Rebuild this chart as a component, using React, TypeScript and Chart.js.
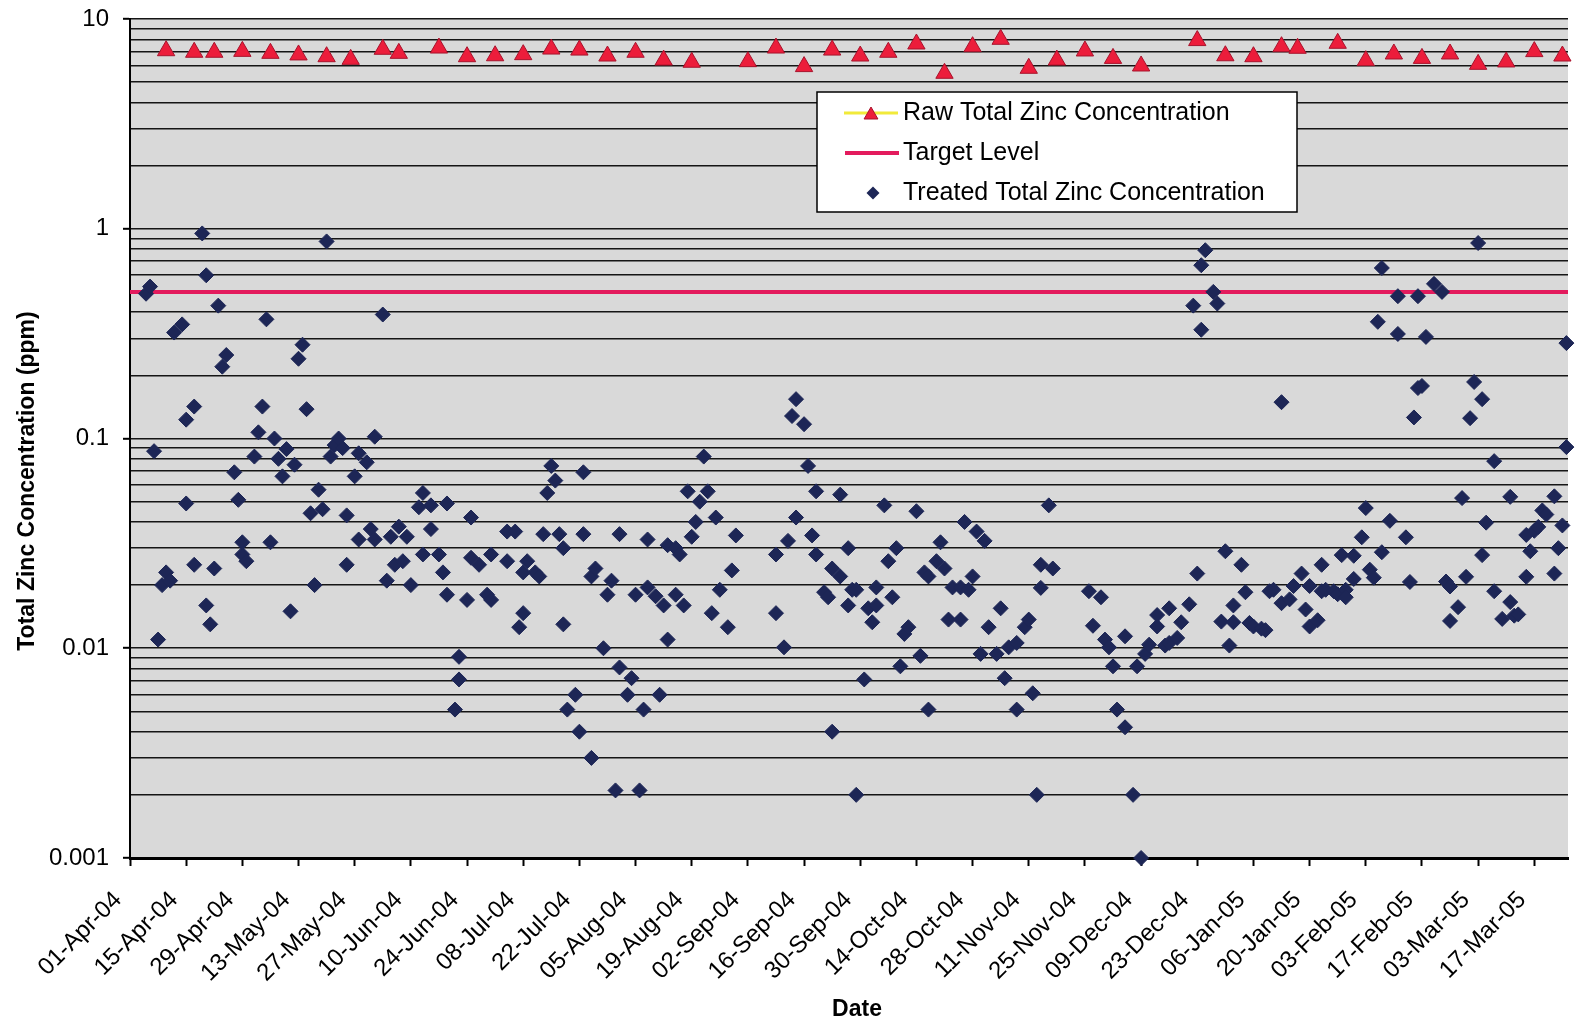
import React, { useEffect, useRef } from 'react';
import { Chart, registerables } from 'chart.js';

Chart.register(...registerables);

// ---- canvas / plot geometry -------------------------------------------------
const CANVAS_W = 1579;
const CANVAS_H = 1027;
const PLOT_LEFT = 130;
const PLOT_TOP = 19;
const PLOT_BOTTOM = 858;
const DAY_MAX = 358.4; // days after 01-Apr-04 shown at the right edge
const TICK_STEP_DAYS = 14;

// ---- axis labels -------------------------------------------------------------
const xTickLabels = [
  '01-Apr-04', '15-Apr-04', '29-Apr-04', '13-May-04', '27-May-04', '10-Jun-04',
  '24-Jun-04', '08-Jul-04', '22-Jul-04', '05-Aug-04', '19-Aug-04', '02-Sep-04',
  '16-Sep-04', '30-Sep-04', '14-Oct-04', '28-Oct-04', '11-Nov-04', '25-Nov-04',
  '09-Dec-04', '23-Dec-04', '06-Jan-05', '20-Jan-05', '03-Feb-05', '17-Feb-05',
  '03-Mar-05', '17-Mar-05',
];
const yDecadeValues = [0.001, 0.01, 0.1, 1, 10];
const yTickLabels = ['0.001', '0.01', '0.1', '1', '10'];
const X_TITLE = 'Date';
const Y_TITLE = 'Total Zinc Concentration (ppm)';

// ---- data (x = days after 01-Apr-04, y = ppm) -------------------------------
const TARGET_LEVEL = 0.5;

const rawDays = [
  9, 16, 21, 28, 35, 42, 49, 55, 63, 67, 77, 84, 91, 98, 105, 112, 119, 126, 133, 140,
  154, 161, 168, 175, 182, 189, 196, 203, 210, 217, 224, 231, 238, 245, 252, 266, 273,
  280, 287, 291, 301, 308, 315, 322, 329, 336, 343, 350, 357,
];
const rawZinc = [
  7.06, 6.94, 6.94, 7.01, 6.86, 6.74, 6.61, 6.42, 7.17, 6.86, 7.27, 6.61, 6.68, 6.76,
  7.19, 7.11, 6.66, 6.94, 6.37, 6.22, 6.26, 7.27, 5.93, 7.11, 6.66, 6.94, 7.6, 5.51,
  7.38, 8.0, 5.82, 6.37, 7.04, 6.49, 5.97, 7.89, 6.68, 6.61, 7.38, 7.25, 7.66, 6.33,
  6.81, 6.49, 6.81, 6.08, 6.24, 6.99, 6.66,
];

const treatedSamples: [number, number][] = [
  [4, 0.49], [5, 0.53], [6, 0.087], [7, 0.011], [8, 0.02], [9, 0.023], [10, 0.021],
  [11, 0.32], [13, 0.35], [14, 0.123], [14, 0.049], [16, 0.025], [16, 0.142], [18, 0.95],
  [19, 0.6], [19, 0.016], [20, 0.013], [21, 0.024], [22, 0.43], [23, 0.22], [24, 0.25],
  [26, 0.069], [27, 0.051], [28, 0.032], [28, 0.028], [29, 0.026], [31, 0.082], [32, 0.107],
  [33, 0.142], [34, 0.37], [35, 0.032], [36, 0.1], [37, 0.08], [38, 0.066], [39, 0.089],
  [40, 0.015], [41, 0.075], [42, 0.24], [43, 0.28], [44, 0.138], [45, 0.044], [46, 0.02],
  [47, 0.057], [48, 0.046], [49, 0.87], [50, 0.082], [51, 0.093], [52, 0.1], [53, 0.09],
  [54, 0.043], [54, 0.025], [56, 0.066], [57, 0.085], [57, 0.033], [59, 0.077], [60, 0.037],
  [61, 0.033], [61, 0.102], [63, 0.39], [64, 0.021], [65, 0.034], [66, 0.025], [67, 0.038],
  [68, 0.026], [69, 0.034], [70, 0.02], [72, 0.047], [73, 0.055], [73, 0.028], [75, 0.037],
  [75, 0.048], [77, 0.028], [78, 0.023], [79, 0.049], [79, 0.018], [81, 0.0051], [82, 0.0091],
  [82, 0.0071], [84, 0.017], [85, 0.042], [85, 0.027], [87, 0.025], [89, 0.018], [90, 0.028],
  [90, 0.017], [94, 0.036], [94, 0.026], [96, 0.036], [97, 0.0126], [98, 0.0147], [98, 0.023],
  [99, 0.026], [101, 0.023], [102, 0.022], [103, 0.035], [104, 0.055], [105, 0.074],
  [106, 0.063], [107, 0.035], [108, 0.03], [108, 0.013], [109, 0.0051], [111, 0.006],
  [112, 0.004], [113, 0.069], [113, 0.035], [115, 0.003], [115, 0.022], [116, 0.024],
  [118, 0.01], [119, 0.018], [120, 0.021], [121, 0.0021], [122, 0.035], [122, 0.0081],
  [124, 0.006], [125, 0.0072], [126, 0.018], [127, 0.0021], [128, 0.0051], [129, 0.033],
  [129, 0.0195], [131, 0.0177], [132, 0.006], [133, 0.016], [134, 0.011], [134, 0.031],
  [136, 0.03], [136, 0.018], [137, 0.028], [138, 0.016], [139, 0.056], [140, 0.034],
  [141, 0.04], [142, 0.05], [143, 0.082], [144, 0.056], [145, 0.0147], [146, 0.042],
  [147, 0.019], [149, 0.0126], [150, 0.0235], [151, 0.0345], [161, 0.028], [161, 0.0147],
  [163, 0.0101], [164, 0.0325], [165, 0.128], [166, 0.042], [166, 0.154], [168, 0.117],
  [169, 0.074], [170, 0.0345], [171, 0.056], [171, 0.028], [173, 0.0185], [174, 0.0175],
  [175, 0.024], [175, 0.004], [177, 0.054], [177, 0.022], [179, 0.03], [179, 0.016],
  [180, 0.019], [181, 0.002], [181, 0.019], [183, 0.0071], [184, 0.0155], [185, 0.0133],
  [186, 0.016], [186, 0.0195], [188, 0.048], [189, 0.026], [190, 0.0175], [191, 0.03],
  [192, 0.0082], [193, 0.0117], [194, 0.0126], [196, 0.045], [197, 0.0092], [198, 0.023],
  [199, 0.0051], [199, 0.022], [201, 0.026], [202, 0.032], [203, 0.024], [204, 0.0137],
  [205, 0.0195], [207, 0.0195], [207, 0.0137], [208, 0.04], [209, 0.019], [210, 0.022],
  [211, 0.036], [212, 0.0094], [213, 0.0325], [214, 0.0126], [216, 0.0094], [217, 0.0155],
  [218, 0.0072], [219, 0.0101], [221, 0.0051], [221, 0.0106], [223, 0.0126], [224, 0.0137],
  [225, 0.0061], [226, 0.002], [227, 0.025], [227, 0.0194], [229, 0.048], [230, 0.024],
  [239, 0.0187], [240, 0.0128], [242, 0.0175], [243, 0.011], [244, 0.0101], [245, 0.0082],
  [246, 0.0051], [248, 0.0114], [248, 0.0042], [250, 0.002], [251, 0.0082], [252, 0.001],
  [253, 0.0094], [254, 0.0104], [256, 0.0144], [256, 0.0127], [258, 0.0103], [259, 0.0155],
  [259, 0.0106], [261, 0.0112], [262, 0.0133], [264, 0.0162], [265, 0.43], [266, 0.0227],
  [267, 0.33], [267, 0.67], [268, 0.79], [270, 0.5], [271, 0.44], [272, 0.0134], [273, 0.029],
  [274, 0.0103], [275, 0.016], [275, 0.0133], [277, 0.025], [278, 0.0185], [279, 0.0132],
  [280, 0.0127], [282, 0.0124], [283, 0.0122], [284, 0.0187], [285, 0.019], [287, 0.149],
  [287, 0.0164], [289, 0.0171], [290, 0.0198], [292, 0.0227], [293, 0.0153], [294, 0.0127],
  [294, 0.0198], [296, 0.0136], [297, 0.025], [297, 0.0187], [298, 0.019], [300, 0.0187],
  [301, 0.0181], [302, 0.0278], [303, 0.019], [303, 0.0175], [305, 0.0276], [305, 0.0214],
  [307, 0.0338], [308, 0.0466], [309, 0.0237], [310, 0.0217], [311, 0.36], [312, 0.65],
  [312, 0.0287], [314, 0.0405], [316, 0.315], [316, 0.477], [318, 0.0338], [319, 0.0207],
  [320, 0.126], [321, 0.477], [321, 0.174], [322, 0.178], [323, 0.305], [325, 0.546],
  [327, 0.5], [328, 0.0208], [329, 0.0197], [329, 0.0135], [331, 0.0157], [332, 0.052],
  [333, 0.0219], [334, 0.125], [335, 0.186], [336, 0.855], [337, 0.154], [337, 0.0278],
  [338, 0.0397], [340, 0.078], [340, 0.0187], [342, 0.0138], [344, 0.0166], [344, 0.0527],
  [345, 0.0143], [346, 0.0145], [348, 0.0219], [348, 0.0347], [349, 0.029], [350, 0.0363],
  [351, 0.0379], [352, 0.0454], [353, 0.0434], [355, 0.053], [355, 0.0227], [356, 0.03],
  [357, 0.0385], [358, 0.285], [358, 0.091],
];

// ---- styling -----------------------------------------------------------------
const FONT_FAMILY = "'Liberation Sans', Arial, Helvetica, sans-serif";
const COLORS = {
  plot: '#d9d9d9',
  grid: '#151515',
  axis: '#000000',
  rawFill: '#ec1d3b',
  rawBorder: '#a8132c',
  rawLegendLine: '#f1ea3a',
  target: '#e31b5d',
  treated: '#1d2656',
  text: '#000000',
};

// gridline positions: 1..9 within each decade, plus the top value
const yGridValues: number[] = [];
for (let e = -3; e < 1; e++) {
  for (let m = 1; m < 10; m++) yGridValues.push(Number((m * Math.pow(10, e)).toPrecision(3)));
}
yGridValues.push(10);

const isDecade = (v: number) => yDecadeValues.some((d) => Math.abs(d - v) < d * 1e-6);

// grey plotting area
const plotBackground = {
  id: 'plotBackground',
  beforeDraw(chart: any) {
    const { ctx, chartArea: a } = chart;
    ctx.save();
    ctx.fillStyle = COLORS.plot;
    ctx.fillRect(a.left, a.top, a.right - a.left, a.bottom - a.top);
    ctx.restore();
  },
};

// bold axis titles
const axisTitles = {
  id: 'axisTitles',
  afterDraw(chart: any) {
    const { ctx } = chart;
    ctx.save();
    ctx.fillStyle = COLORS.text;
    ctx.font = `bold 23px ${FONT_FAMILY}`;
    ctx.textAlign = 'center';
    ctx.textBaseline = 'middle';
    ctx.fillText(X_TITLE, 857, 1010);
    ctx.translate(28, 481);
    ctx.rotate(-Math.PI / 2);
    ctx.fillText(Y_TITLE, 0, 0);
    ctx.restore();
  },
};

// boxed legend inside the plot
const LEGEND = { left: 817, top: 92, width: 480, height: 120, rows: [113, 153, 193], symbolX: 871, textX: 903 };

function triangle(ctx: CanvasRenderingContext2D, x: number, y: number, r: number) {
  ctx.beginPath();
  for (let k = 0; k < 3; k++) {
    const a = (k * 2 * Math.PI) / 3;
    const px = x + Math.sin(a) * r;
    const py = y - Math.cos(a) * r;
    if (k === 0) ctx.moveTo(px, py); else ctx.lineTo(px, py);
  }
  ctx.closePath();
}

const legendBox = {
  id: 'legendBox',
  afterDraw(chart: any) {
    const { ctx } = chart;
    const ds = chart.data.datasets;
    const L = LEGEND;
    ctx.save();
    ctx.fillStyle = '#ffffff';
    ctx.fillRect(L.left, L.top, L.width, L.height);
    ctx.strokeStyle = '#000';
    ctx.lineWidth = 1.5;
    ctx.strokeRect(L.left, L.top, L.width, L.height);

    // raw: yellow line with red triangle
    const [r0, r1, r2] = L.rows;
    ctx.strokeStyle = COLORS.rawLegendLine;
    ctx.lineWidth = 3;
    ctx.beginPath();
    ctx.moveTo(L.symbolX - 27, r0);
    ctx.lineTo(L.symbolX + 27, r0);
    ctx.stroke();
    triangle(ctx, L.symbolX, r0 + 2, 8);
    ctx.fillStyle = COLORS.rawFill;
    ctx.fill();
    ctx.strokeStyle = COLORS.rawBorder;
    ctx.lineWidth = 1;
    ctx.stroke();

    // target line
    ctx.strokeStyle = COLORS.target;
    ctx.lineWidth = 4;
    ctx.beginPath();
    ctx.moveTo(L.symbolX - 26, r1);
    ctx.lineTo(L.symbolX + 28, r1);
    ctx.stroke();

    // treated diamond
    const d = 6.5;
    ctx.beginPath();
    ctx.moveTo(L.symbolX + 2 - d, r2);
    ctx.lineTo(L.symbolX + 2, r2 - d);
    ctx.lineTo(L.symbolX + 2 + d, r2);
    ctx.lineTo(L.symbolX + 2, r2 + d);
    ctx.closePath();
    ctx.fillStyle = COLORS.treated;
    ctx.fill();

    ctx.fillStyle = COLORS.text;
    ctx.font = `25px ${FONT_FAMILY}`;
    ctx.textAlign = 'left';
    ctx.textBaseline = 'middle';
    ctx.fillText(ds[0].label, L.textX, r0);
    ctx.fillText(ds[1].label, L.textX, r1);
    ctx.fillText(ds[2].label, L.textX, r2);
    ctx.restore();
  },
};

export default function App() {
  const canvasRef = useRef<HTMLCanvasElement>(null);

  useEffect(() => {
    const canvas = canvasRef.current;
    if (!canvas) return;

    const chart = new Chart(canvas, {
      type: 'scatter',
      data: {
        datasets: [
          {
            label: 'Raw Total Zinc Concentration',
            data: rawDays.map((d, i) => ({ x: d, y: rawZinc[i] })),
            pointStyle: 'triangle',
            pointRadius: 10,
            backgroundColor: COLORS.rawFill,
            borderColor: COLORS.rawBorder,
            borderWidth: 1,
            order: 2,
            clip: false,
          },
          {
            label: 'Target Level',
            data: [{ x: 0, y: TARGET_LEVEL }, { x: DAY_MAX, y: TARGET_LEVEL }],
            showLine: true,
            pointRadius: 0,
            borderColor: COLORS.target,
            backgroundColor: COLORS.target,
            borderWidth: 4,
            fill: false,
            order: 3,
          },
          {
            label: 'Treated Total Zinc Concentration',
            data: treatedSamples.map(([d, v]) => ({ x: d, y: v })),
            pointStyle: 'rectRot',
            pointRadius: 7.5,
            backgroundColor: COLORS.treated,
            borderColor: COLORS.treated,
            borderWidth: 1,
            order: 1,
            clip: false,
          },
        ],
      },
      options: {
        responsive: false,
        animation: false,
        devicePixelRatio: 1,
        events: [],
        layout: { padding: { top: PLOT_TOP, left: 0, right: 0, bottom: 0 } },
        plugins: {
          legend: { display: false },
          tooltip: { enabled: false },
          title: { display: false },
        },
        scales: {
          x: {
            type: 'linear',
            min: 0,
            max: DAY_MAX,
            afterBuildTicks: (scale: any) => {
              scale.ticks = xTickLabels.map((_, i) => ({ value: i * TICK_STEP_DAYS }));
            },
            afterFit: (scale: any) => {
              scale.height = CANVAS_H - PLOT_BOTTOM;
              scale.paddingLeft = 0;
              scale.paddingRight = 0;
            },
            ticks: {
              autoSkip: false,
              minRotation: 45,
              maxRotation: 45,
              padding: 20,
              labelOffset: -12,
              color: COLORS.text,
              font: { family: FONT_FAMILY, size: 24 },
              callback: (_v: any, i: number) => xTickLabels[i],
            },
            grid: {
              display: true,
              drawOnChartArea: false,
              drawTicks: true,
              tickLength: 8,
              tickColor: COLORS.axis,
              tickWidth: 2,
            },
            border: { display: true, color: COLORS.axis, width: 3 },
          },
          y: {
            type: 'logarithmic',
            min: 0.001,
            max: 10,
            afterBuildTicks: (scale: any) => {
              scale.ticks = yGridValues.map((v) => ({ value: v, major: isDecade(v) }));
            },
            afterFit: (scale: any) => {
              scale.width = PLOT_LEFT;
              scale.paddingTop = 0;
              scale.paddingBottom = 0;
            },
            ticks: {
              autoSkip: false,
              padding: 14,
              color: COLORS.text,
              font: { family: FONT_FAMILY, size: 24 },
              callback: (v: any) => {
                const i = yDecadeValues.findIndex((d) => Math.abs(d - Number(v)) < d * 1e-6);
                return i >= 0 ? yTickLabels[i] : '';
              },
            },
            grid: {
              color: COLORS.grid,
              lineWidth: 1.6,
              drawTicks: true,
              tickLength: 7,
              tickWidth: 2,
              tickColor: (ctx: any) => (ctx.tick && isDecade(ctx.tick.value) ? COLORS.axis : 'rgba(0,0,0,0)'),
            },
            border: { display: true, color: COLORS.axis, width: 2 },
          },
        },
      },
      plugins: [plotBackground, axisTitles, legendBox],
    } as any);

    return () => chart.destroy();
  }, []);

  return (
    <div style={{ position: 'fixed', left: 0, top: 0, width: CANVAS_W, height: CANVAS_H, background: '#ffffff' }}>
      <canvas
        ref={canvasRef}
        width={CANVAS_W}
        height={CANVAS_H}
        style={{ display: 'block', width: CANVAS_W, height: CANVAS_H }}
      />
    </div>
  );
}
